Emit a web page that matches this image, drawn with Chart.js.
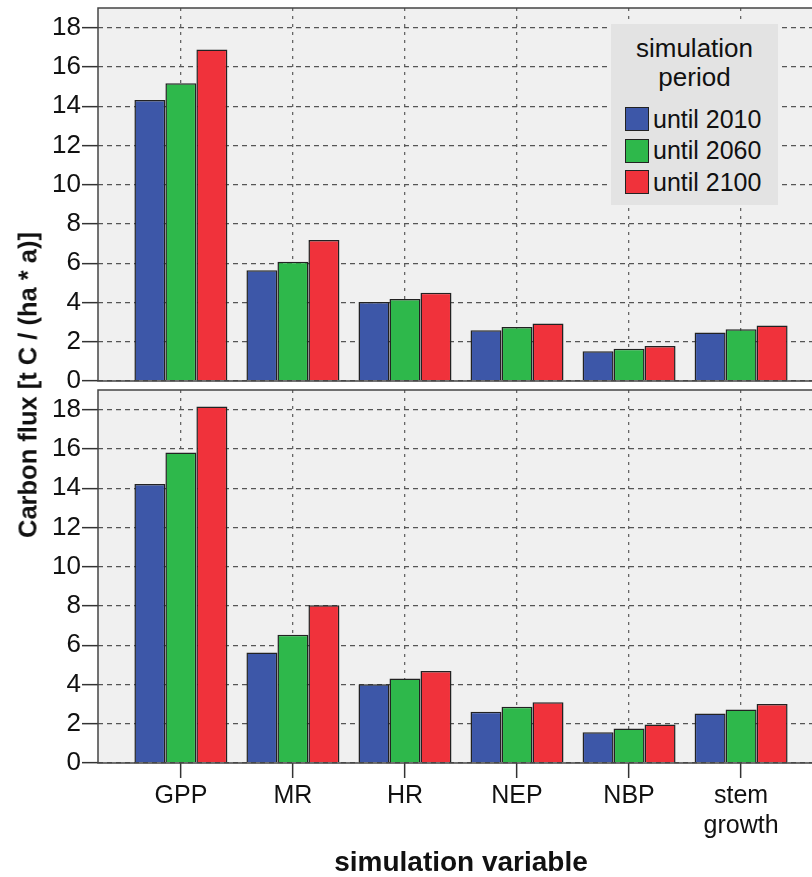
<!DOCTYPE html>
<html>
<head>
<meta charset="utf-8">
<script src="https://cdn.jsdelivr.net/npm/chart.js@4/dist/chart.umd.min.js"></script>
<style>
  html, body { margin: 0; padding: 0; background: #fff; width: 812px; height: 877px; overflow: hidden; }
  body { position: relative; font-family: "Liberation Sans", Arial, sans-serif; }
  .panel { position: absolute; left: 0; }
  #ytitle {
    position: absolute; left: 28px; top: 385px;
    transform: translate(-50%, -50%) rotate(-90deg);
    white-space: nowrap; font-weight: bold; font-size: 25.5px; color: #111;
  }
  #legend {
    position: absolute; left: 611px; top: 24px; width: 167px; height: 181px;
    background: #e3e3e3; color: #111; box-sizing: border-box;
  }
  #legend .title { text-align: center; font-size: 26px; line-height: 29px; margin-top: 10px; }
  #legend .item { position: absolute; left: 14px; height: 26px; display: flex; align-items: center; font-size: 25px; }
  #legend .swatch { width: 22px; height: 22px; border: 1.5px solid #222; margin-right: 4px; }
</style>
</head>
<body>
<div class="panel" style="top:0"><canvas id="topChart" width="824" height="398"></canvas></div>
<div class="panel" style="top:384px"><canvas id="bottomChart" width="824" height="493"></canvas></div>
<div id="ytitle">Carbon flux [t C / (ha * a)]</div>
<div id="legend"></div>

<script>
// Categories and series values
const categories = ['GPP', 'MR', 'HR', 'NEP', 'NBP', ['stem', 'growth']];
const seriesLabels = ['until 2010', 'until 2060', 'until 2100'];
const seriesColors = ['#3d57a8', '#2eb84b', '#f0323b'];

// upper panel
const upper2010 = [14.32, 5.64, 4.02, 2.59, 1.52, 2.47];
const upper2060 = [15.17, 6.08, 4.18, 2.75, 1.64, 2.63];
const upper2100 = [16.88, 7.18, 4.49, 2.93, 1.78, 2.83];

// lower panel
const lower2010 = [14.21, 5.63, 4.01, 2.61, 1.56, 2.52];
const lower2060 = [15.82, 6.53, 4.31, 2.86, 1.76, 2.72];
const lower2100 = [18.16, 8.04, 4.69, 3.10, 1.96, 3.01];

const yTicks = [0, 2, 4, 6, 8, 10, 12, 14, 16, 18];
const yMax = 19;

Chart.defaults.font.family = '"Liberation Sans", Arial, sans-serif';
Chart.defaults.color = '#111';

// grey panel background and frame (left, top, bottom edges)
const panelFrame = {
  id: 'panelFrame',
  beforeDraw(chart) {
    const { ctx, chartArea: a } = chart;
    ctx.save();
    ctx.fillStyle = '#f0f0f0';
    ctx.fillRect(a.left, a.top, a.right - a.left, a.bottom - a.top);
    ctx.restore();
  },
  afterDraw(chart) {
    const { ctx, chartArea: a } = chart;
    ctx.save();
    ctx.strokeStyle = '#444';
    ctx.lineWidth = 1.5;
    ctx.beginPath();
    ctx.moveTo(a.right + 5, a.top);
    ctx.lineTo(a.left, a.top);
    ctx.lineTo(a.left, a.bottom);
    ctx.lineTo(a.right + 5, a.bottom);
    ctx.stroke();
    ctx.restore();
  }
};

function makeDatasets(series) {
  return series.map((vals, s) => ({
    label: seriesLabels[s],
    data: vals.map((v, i) => ({ x: i, y: v })),
    backgroundColor: seriesColors[s],
    borderColor: '#222',
    borderWidth: 1.5,
    categoryPercentage: 0.83,
    barPercentage: 1.0
  }));
}

function makeChart(canvasId, series, showLabels) {
  return new Chart(document.getElementById(canvasId), {
    type: 'bar',
    data: { datasets: makeDatasets(series) },
    plugins: [panelFrame],
    options: {
      responsive: false,
      animation: false,
      devicePixelRatio: 1,
      layout: { padding: { top: showLabels ? 6 : 8, bottom: showLabels ? 0 : 17, left: 0, right: 0 } },
      plugins: { legend: { display: false }, tooltip: { enabled: false } },
      scales: {
        x: {
          type: 'linear',
          min: -0.74,
          max: 5.74,
          offset: false,
          afterBuildTicks: s => { s.ticks = categories.map((_, i) => ({ value: i })); },
          afterFit: s => {
            s.height = showLabels ? 114 : 0;
            s.paddingLeft = 0; s.paddingRight = 0;
          },
          border: { display: false, dash: [3, 5] },
          grid: {
            offset: false,
            color: '#666',
            lineWidth: 1.3,
            drawTicks: showLabels,
            tickLength: 15,
            tickColor: '#333',
            tickWidth: 1.5,
            tickBorderDash: []
          },
          ticks: {
            display: showLabels,
            autoSkip: false,
            maxRotation: 0,
            padding: 3,
            font: { size: 25 },
            color: '#111',
            callback: v => categories[v]
          },
          title: {
            display: showLabels,
            text: 'simulation variable',
            font: { size: 28, weight: 'bold', lineHeight: 1.0 },
            color: '#111',
            padding: { top: 0, bottom: 0 }
          }
        },
        y: {
          min: 0,
          max: yMax,
          afterBuildTicks: s => { s.ticks = yTicks.map(v => ({ value: v })); },
          afterFit: s => {
            s.width = 98;
            s.paddingTop = 0; s.paddingBottom = 0;
          },
          border: { display: false, dash: [5, 4] },
          grid: {
            color: '#555',
            lineWidth: 1.3,
            tickLength: 16,
            tickColor: '#333',
            tickWidth: 1.5,
            tickBorderDash: []
          },
          ticks: { padding: 1, font: { size: 26 }, color: '#111' }
        }
      }
    }
  });
}

makeChart('topChart', [upper2010, upper2060, upper2100], false);
makeChart('bottomChart', [lower2010, lower2060, lower2100], true);

// legend inside the upper panel
const legend = document.getElementById('legend');
legend.innerHTML = '<div class="title">simulation<br>period</div>';
seriesLabels.forEach((lab, i) => {
  const item = document.createElement('div');
  item.className = 'item';
  item.style.top = (82 + i * 31.5) + 'px';
  item.innerHTML = '<span class="swatch" style="background:' + seriesColors[i] + '"></span>' + lab;
  legend.appendChild(item);
});
</script>
</body>
</html>
